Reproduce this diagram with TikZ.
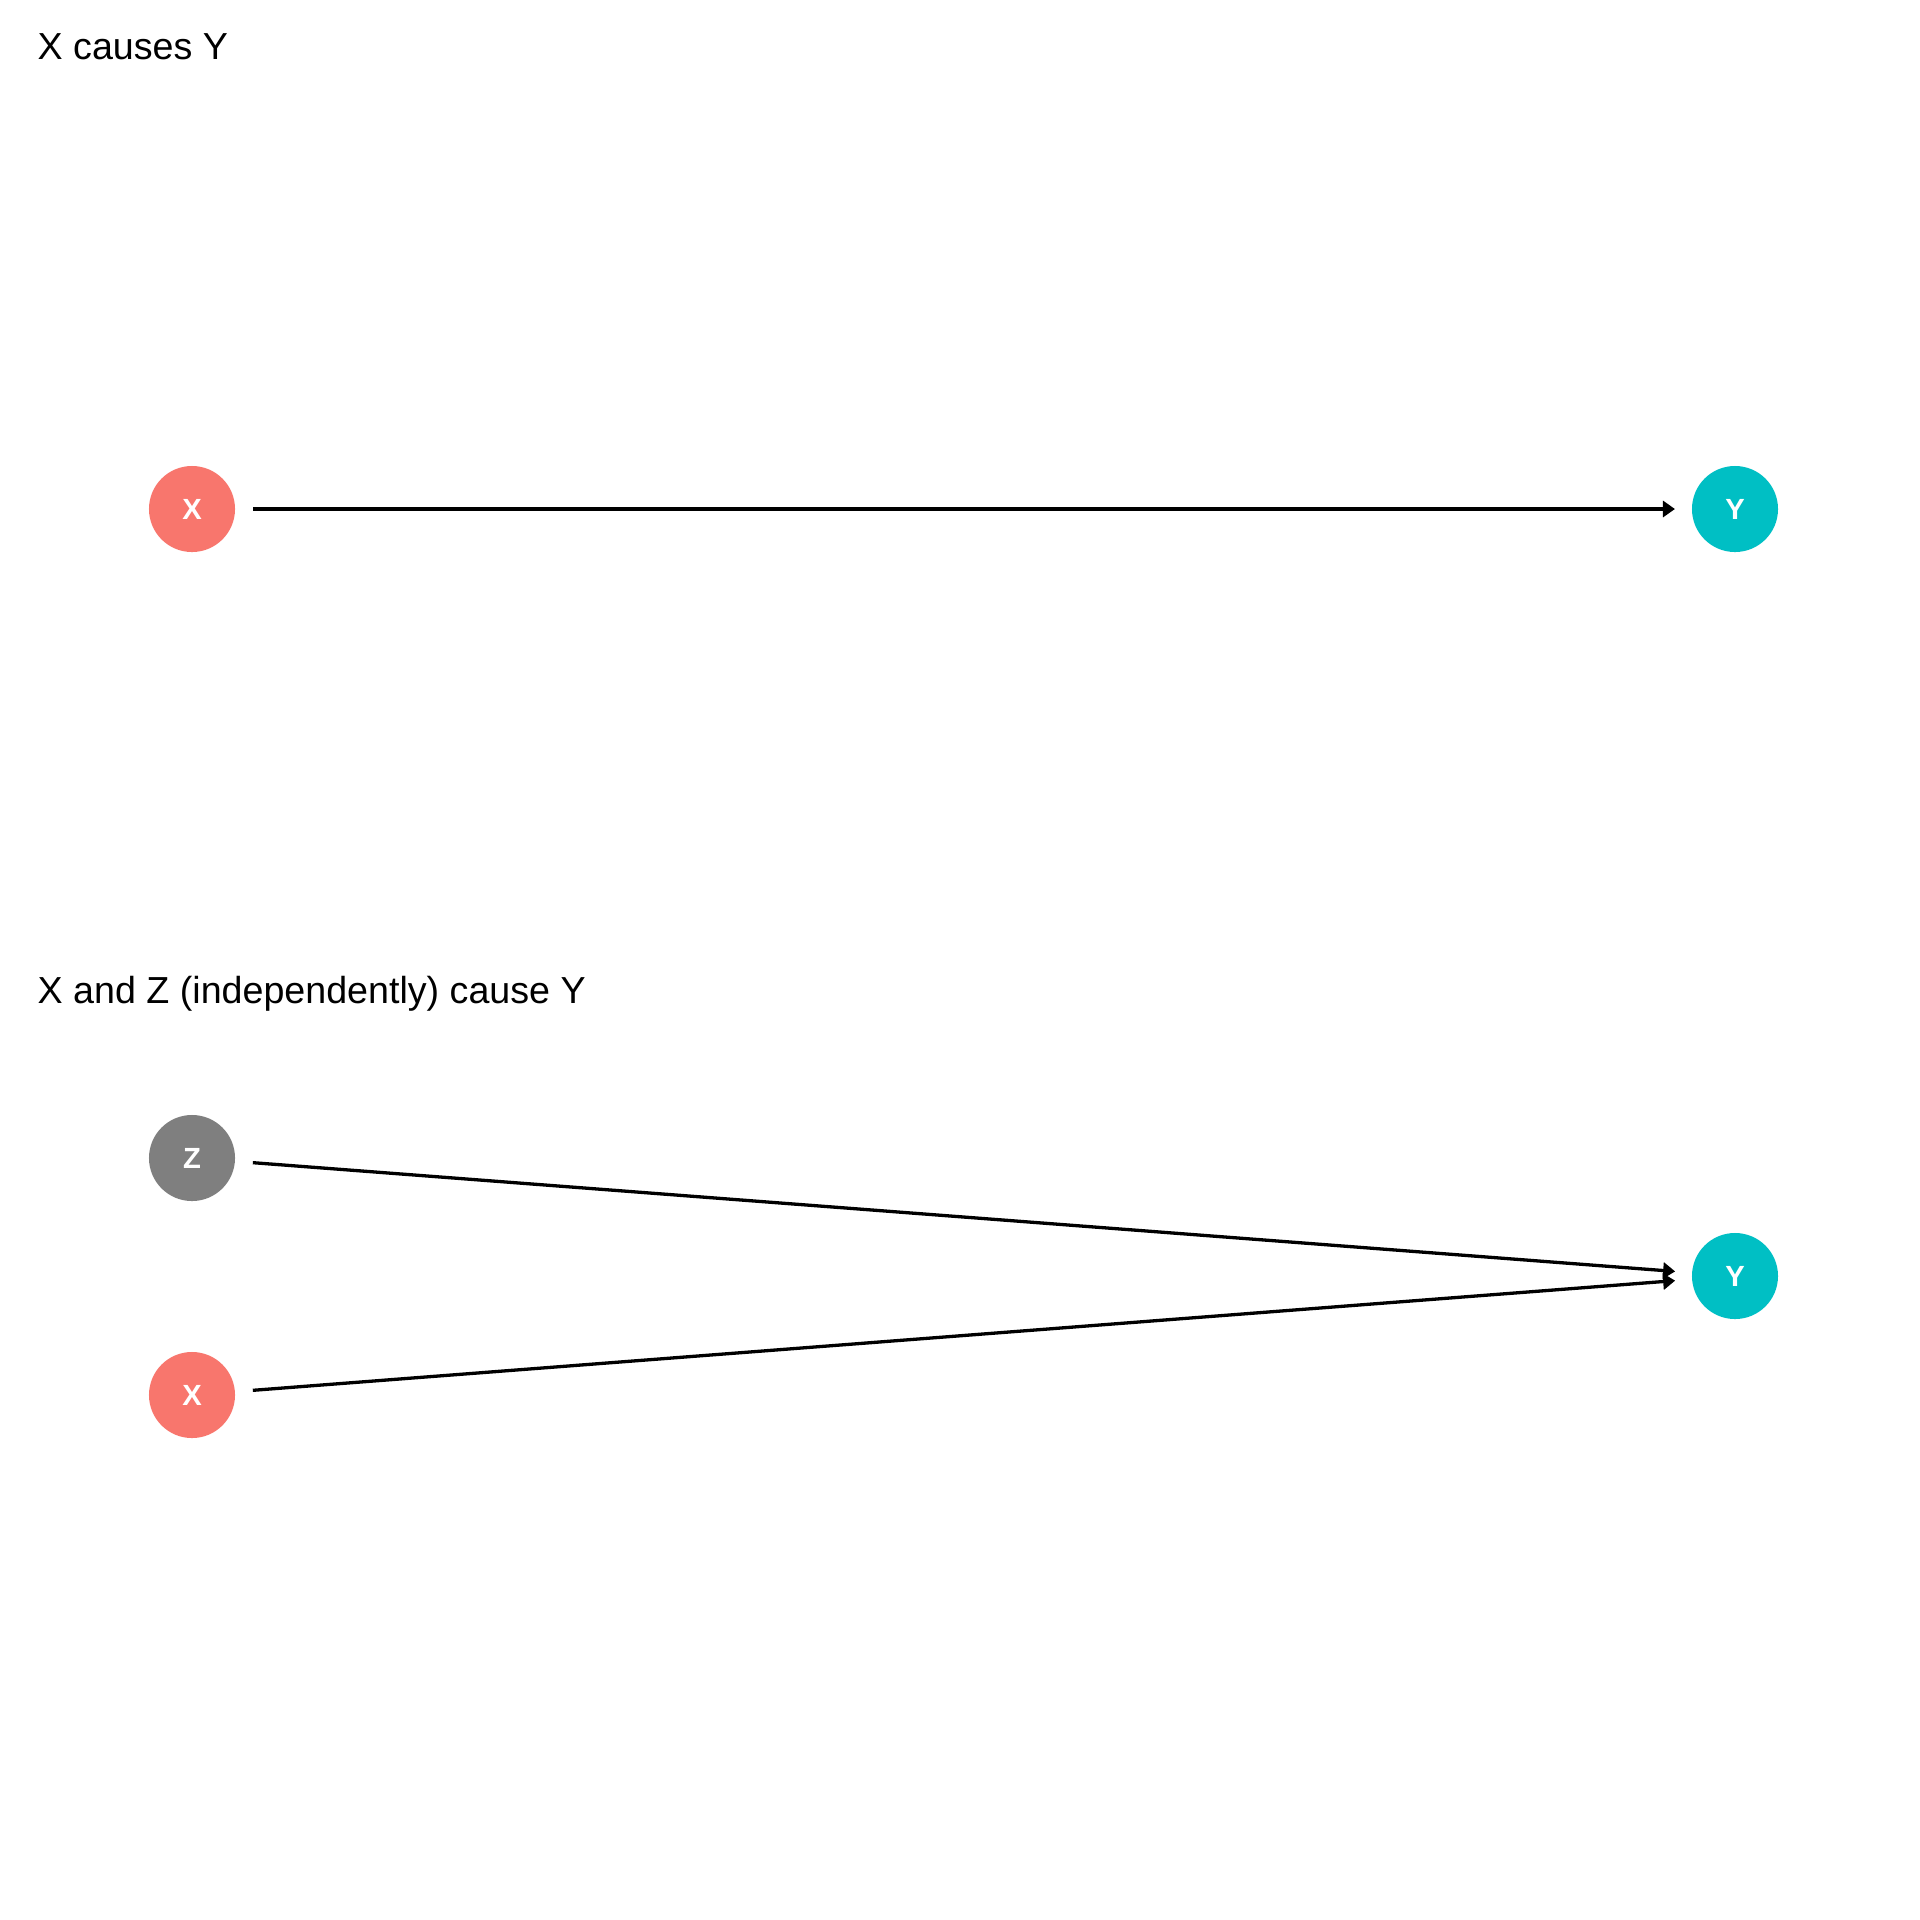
\documentclass[tikz,border=0pt]{standalone}
\usepackage{fontspec}
\setmainfont{Liberation Sans}
\usetikzlibrary{arrows.meta}
\definecolor{xcol}{HTML}{F8766D}
\definecolor{ycol}{HTML}{00BFC4}
\definecolor{zcol}{HTML}{7F7F7F}
\begin{document}
\begin{tikzpicture}[x=0.01cm,y=-0.01cm,
  var/.style={circle,minimum size=0.86cm,inner sep=0pt,outer sep=0pt,
    text=white,font=\fontsize{8.3}{10}\selectfont\bfseries},
  title/.style={anchor=base west,inner sep=0pt,font=\fontsize{10.7}{12.8}\selectfont},
  edge/.style={line width=0.033cm,shorten <=0.18cm,shorten >=0.17cm,
    -{Triangle[length=0.12cm,width=0.16cm]}}]
\useasboundingbox[fill=white] (0,0) rectangle (1920,1920);

% simple cause
\node[title] (t1) at (37,59) {X causes Y};
\node[var,fill=xcol] (x1) at (192,509) {X};
\node[var,fill=ycol] (y1) at (1735,509) {Y};
\draw[edge] (x1) -- (y1);

% two independent causes
\node[title] (t2) at (37,1003) {X and Z (independently) cause Y};
\node[var,fill=zcol] (z2) at (192,1158) {Z};
\node[var,fill=xcol] (x2) at (192,1395) {X};
\node[var,fill=ycol] (y2) at (1735,1276) {Y};
\draw[edge] (z2) -- (y2);
\draw[edge] (x2) -- (y2);
\end{tikzpicture}
\end{document}
